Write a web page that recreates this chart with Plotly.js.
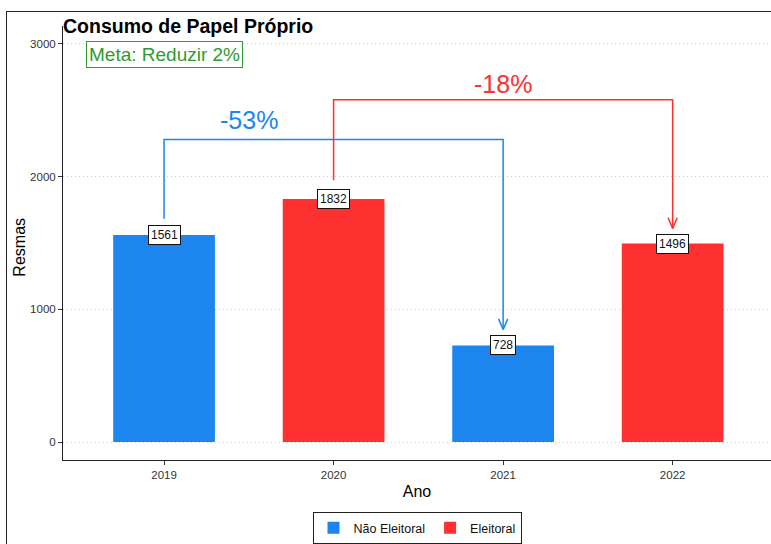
<!DOCTYPE html>
<html>
<head>
<meta charset="utf-8">
<script src="https://cdn.plot.ly/plotly-3.0.1.min.js"></script>
<style>
body { margin: 0; background: #fff; }
#wrap { position: relative; width: 771px; height: 544px; overflow: hidden; }
#frame { position: absolute; left: 6px; top: 11px; right: -2px; bottom: -2px;
         border-left: 1.5px solid #222; border-top: 1.5px solid #222; pointer-events: none; }
</style>
</head>
<body>
<div id="wrap"><div id="chart"></div><div id="frame"></div></div>
<script>
const years = [2019, 2020, 2021, 2022];
const resmas = [1561, 1832, 728, 1496];
const tipo = ['Não Eleitoral', 'Eleitoral', 'Não Eleitoral', 'Eleitoral'];
const grupos = ['Não Eleitoral', 'Eleitoral'];
const cores = ['#1C86EE', '#FF3030'];

// comparison brackets (one per group)
const pctLabels = ['-53%', '-18%'];
const pctFrom = [2019, 2020];
const pctTo = [2021, 2022];
const pctTop = [2280, 2580];
const pctStart = [1682, 1972];
const pctEnd = [848, 1610];
const pctLabelX = [2019.5, 2021];
const pctLabelY = [2430, 2700];

const HEAD_W = 0.027;
const HEAD_H = 80;

const traces = [];

grupos.forEach((g, gi) => {
    const idx = tipo.map((t, i) => t === g ? i : -1).filter(i => i >= 0);
    traces.push({
        type: 'bar',
        name: g,
        x: idx.map(i => years[i]),
        y: idx.map(i => resmas[i]),
        width: 0.6,
        marker: { color: cores[gi] },
        hoverinfo: 'x+y'
    });
});

pctLabels.forEach((lab, i) => {
    const c = cores[i];
    traces.push({
        type: 'scatter', mode: 'lines', showlegend: false, hoverinfo: 'skip',
        x: [pctFrom[i], pctFrom[i], pctTo[i], pctTo[i]],
        y: [pctStart[i], pctTop[i], pctTop[i], pctEnd[i]],
        line: { color: c, width: 1.5 }
    });
    traces.push({
        type: 'scatter', mode: 'lines', showlegend: false, hoverinfo: 'skip',
        x: [pctTo[i] - HEAD_W, pctTo[i], pctTo[i] + HEAD_W],
        y: [pctEnd[i] + HEAD_H, pctEnd[i], pctEnd[i] + HEAD_H],
        line: { color: c, width: 1.5 }
    });
});

const annotations = [];

years.forEach((yr, i) => {
    annotations.push({
        x: yr, y: resmas[i], text: String(resmas[i]), showarrow: false,
        font: { size: 12, color: '#111' },
        bgcolor: '#fff', bordercolor: '#111', borderwidth: 1, borderpad: 2
    });
});

pctLabels.forEach((lab, i) => {
    annotations.push({
        x: pctLabelX[i], y: pctLabelY[i], text: lab, showarrow: false,
        font: { size: 25, color: cores[i] }
    });
});

annotations.push({
    x: 2019, y: 2920, text: 'Meta: Reduzir 2%', showarrow: false,
    font: { size: 19, color: '#2E9B2E' },
    bgcolor: '#fff', bordercolor: '#2E9B2E', borderwidth: 1, borderpad: 2
});

// y axis title, placed by hand
annotations.push({
    xref: 'paper', yref: 'paper', x: -0.061, y: 0.49, xshift: -11, text: 'Resmas',
    textangle: -90, showarrow: false, font: { size: 16, color: '#000' }
});

const layout = {
    width: 771, height: 544,
    margin: { l: 63, r: 0, t: 26, b: 83 },
    paper_bgcolor: '#fff', plot_bgcolor: '#fff',
    font: { family: 'Liberation Sans, Arial, sans-serif', color: '#111' },
    title: {
        text: '<b>Consumo de Papel Próprio</b>',
        font: { size: 19.5, color: '#000' },
        xref: 'paper', x: 0, xanchor: 'left',
        yref: 'container', y: 1 - 26 / 544, yanchor: 'middle'
    },
    barmode: 'overlay',
    showlegend: true,
    legend: {
        orientation: 'h', x: 0.5, xanchor: 'center', y: -0.12, yanchor: 'top',
        bordercolor: '#222', borderwidth: 1, font: { size: 12.5 }, itemwidth: 30
    },
    xaxis: {
        range: [2018.404, 2022.58],
        tickvals: years, ticktext: years.map(String),
        ticks: 'outside', ticklen: 4, tickcolor: '#333',
        showline: true, linecolor: '#222', linewidth: 1,
        showgrid: false, zeroline: false, automargin: false,
        tickfont: { size: 11.5, color: '#333' },
        title: { text: 'Ano', font: { size: 16, color: '#000' }, standoff: 6 }
    },
    yaxis: {
        range: [-135, 3135],
        tickvals: [0, 1000, 2000, 3000],
        ticks: 'outside', ticklen: 4, tickcolor: '#333',
        showline: true, linecolor: '#222', linewidth: 1,
        showgrid: true, gridcolor: '#cfcfcf', griddash: '1px,3px', gridwidth: 1,
        zeroline: false, automargin: false,
        tickfont: { size: 11.5, color: '#333' }
    },
    annotations: annotations
};

Plotly.newPlot('chart', traces, layout, { displayModeBar: false, staticPlot: true });
</script>
</body>
</html>
